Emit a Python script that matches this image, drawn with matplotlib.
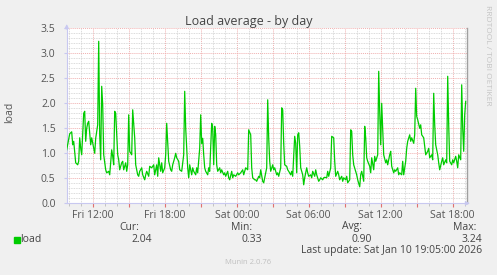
import numpy as np
import pandas as pd
import matplotlib
matplotlib.use("Agg")
import matplotlib.pyplot as plt
import matplotlib.dates as mdates

plt.rcParams['font.family'] = ['Open Sans', 'DejaVu Sans']

# samples: step = 5-minute slot since Fri 09:50, load = 5 min load average
steps_a = [0, 3, 5, 6, 7, 9, 11, 12, 13, 14, 15, 17, 18, 19, 20, 21, 22, 24, 25, 27,
           28, 29, 31, 32, 33, 34, 35, 36, 37, 39, 40, 42, 43, 45, 46, 47, 48, 49, 51, 52,
           53, 55, 56, 57, 59, 60, 61, 62, 63, 65, 66, 68, 69, 71, 72, 73, 75, 76, 78, 79,
           80, 82, 83, 85, 87, 88, 90, 91, 92, 94, 95, 96, 98, 99, 100, 101, 102, 104, 105, 106,
           108, 109, 110, 112, 113, 115, 117, 118, 119, 121, 122, 123, 125, 126, 127, 129, 130, 131, 133, 134]
load_a = [1.07, 1.39, 1.43, 1.17, 1.24, 0.81, 0.77, 0.84, 1.31, 1.10, 0.97, 1.80, 1.84, 1.24, 1.50, 1.60, 1.64, 1.17, 1.31, 1.10,
          1.00, 1.30, 1.57, 3.24, 1.37, 0.87, 2.34, 1.97, 0.97, 0.67, 0.61, 0.64, 0.57, 1.07, 0.94, 0.77, 1.84, 1.80, 0.97, 0.87,
          0.67, 0.81, 0.84, 0.67, 0.81, 0.64, 0.77, 1.77, 1.04, 0.97, 1.87, 1.31, 0.77, 0.57, 0.54, 0.64, 0.71, 0.57, 0.47, 0.57,
          0.64, 0.54, 0.74, 0.71, 0.77, 0.57, 0.77, 0.54, 0.91, 0.64, 0.81, 0.61, 0.71, 0.97, 1.60, 1.24, 0.84, 0.67, 0.64, 0.77,
          0.91, 1.00, 0.91, 0.84, 0.67, 0.64, 0.97, 2.24, 1.50, 0.71, 0.51, 0.77, 0.57, 0.71, 0.64, 0.57, 0.71, 0.61, 1.10, 1.77]

steps_b = [135, 136, 137, 138, 139, 141, 142, 143, 145, 146, 147, 148, 149, 150, 151, 153, 154, 155, 157, 158,
           159, 161, 162, 163, 165, 166, 167, 169, 171, 172, 174, 176, 177, 179, 181, 182, 184, 185, 186, 188,
           189, 190, 192, 193, 194, 196, 197, 198, 200, 201, 202, 203, 204, 206, 207, 208, 210, 211, 212, 214,
           215, 216, 217, 218, 220, 221, 222, 224, 225, 226, 228, 229, 230, 231, 232, 233, 234, 236, 237, 238,
           240, 241, 242, 244, 245, 246, 248, 249, 250, 252, 253, 254, 256, 257, 258, 260, 261, 262, 264]
load_b = [1.20, 1.30, 0.97, 0.71, 0.64, 0.57, 0.71, 0.64, 1.60, 1.50, 0.77, 1.54, 1.37, 0.77, 0.64, 0.71, 0.61, 0.67, 0.57, 0.61,
          0.54, 0.64, 0.51, 0.47, 0.64, 0.51, 0.57, 0.54, 0.61, 0.57, 0.61, 0.67, 0.57, 0.71, 0.67, 1.47, 1.37, 0.71, 0.51, 0.47,
          0.47, 0.44, 0.54, 0.51, 0.67, 0.44, 0.41, 0.51, 0.71, 2.07, 1.31, 0.84, 0.64, 0.77, 0.67, 0.71, 0.57, 0.61, 0.54, 0.71,
          1.91, 1.87, 1.20, 0.77, 0.74, 0.67, 0.64, 0.57, 0.64, 0.54, 1.34, 1.20, 0.61, 1.37, 1.41, 1.14, 0.71, 0.57, 0.37, 0.51,
          0.71, 0.61, 0.54, 0.57, 0.51, 0.64, 0.54, 0.67, 0.57, 0.44, 0.47, 0.51, 0.47, 0.51, 0.52, 0.51, 0.64, 0.54, 0.71]

steps_c = [265, 267, 268, 269, 271, 272, 273, 275, 276, 277, 279, 280, 281, 283, 284, 285, 286, 287, 289, 290,
           291, 293, 294, 295, 297, 298, 299, 300, 301, 303, 304, 305, 307, 308, 309, 311, 312, 313, 314, 315,
           316, 317, 319, 320, 321, 323, 324, 325, 327, 328, 329, 331, 332, 333, 335, 336, 337, 339, 340, 341,
           343, 344, 345, 347, 348, 349, 350, 351, 353, 354, 355, 357, 358, 359, 361, 362, 363, 365, 366, 367,
           368, 369, 371, 372, 373, 375, 376, 377, 379, 380, 381, 382, 383, 385, 386, 387, 389, 390, 391, 392,
           394, 395, 396, 397, 398, 399]
load_c = [1.34, 1.31, 0.84, 0.54, 0.64, 0.57, 0.47, 0.54, 0.44, 0.51, 0.47, 0.54, 0.41, 0.47, 1.47, 1.44, 0.97, 0.77, 0.64, 0.57,
          0.47, 0.33, 0.57, 0.64, 0.44, 1.54, 1.31, 0.91, 0.84, 0.74, 0.61, 0.91, 0.67, 0.94, 0.84, 0.97, 2.64, 1.84, 1.17, 2.00,
          1.50, 0.97, 0.81, 0.87, 0.77, 0.97, 1.04, 0.74, 0.61, 0.67, 0.64, 0.71, 0.57, 0.61, 0.57, 0.84, 0.57, 0.84, 1.10, 1.24,
          1.37, 1.24, 1.31, 1.20, 1.37, 2.30, 1.74, 1.67, 1.50, 1.57, 1.37, 1.31, 1.14, 0.97, 1.04, 1.10, 0.91, 0.97, 0.87, 2.20,
          1.57, 1.17, 0.97, 0.81, 0.67, 0.84, 0.91, 0.77, 0.87, 0.81, 2.54, 1.57, 0.84, 0.77, 0.87, 0.81, 0.94, 0.84, 0.71, 0.97,
          0.87, 2.37, 1.50, 1.04, 1.77, 2.04]

cur, vmin, avg, vmax = "2.04", "0.33", "0.90", "3.24"
last_update = "Last update: Sat Jan 10 19:05:00 2026"

start = pd.Timestamp("2026-01-09 09:50")
steps = np.array(steps_a + steps_b + steps_c)
load = np.array(load_a + load_b + load_c)
times = start + pd.to_timedelta(steps * 5, unit="min")

W, H = 497, 275
fig = plt.figure(figsize=(W / 100, H / 100), dpi=100, facecolor="#F0F0F0")
ax = fig.add_axes([66.7 / W, (H - 203.3) / H, 400 / W, 175 / H])
ax.set_facecolor("white")

ax.plot(times, load, color="#00CC00", lw=0.9, zorder=3)

ax.set_xlim(start, start + pd.Timedelta(minutes=2000))
ax.set_ylim(0, 3.5)

# grids: red every 3h / 0.5, grey every hour / 0.1
ax.xaxis.set_major_locator(mdates.HourLocator(byhour=range(0, 24, 3)))
ax.xaxis.set_minor_locator(mdates.HourLocator())
ax.yaxis.set_major_locator(plt.MultipleLocator(0.5))
ax.yaxis.set_minor_locator(plt.MultipleLocator(0.1))
ax.grid(which="minor", color="#CFCFCF", ls=(0, (1, 1)), lw=0.6)
ax.grid(which="major", color="#F0B0B0", ls=(0, (1, 1)), lw=0.7)
ax.set_axisbelow(True)

def xfmt(x, pos):
    d = mdates.num2date(x)
    return d.strftime("%a %H:%M") if d.hour % 6 == 0 else ""
ax.xaxis.set_major_formatter(plt.FuncFormatter(xfmt))
ax.yaxis.set_major_formatter(plt.FuncFormatter(lambda v, p: f"{v:.1f}"))

ax.tick_params(axis="x", which="major", colors="#E07070", length=3, width=0.8,
               labelcolor="#555555", labelsize=7.5, pad=2)
ax.tick_params(axis="x", which="minor", colors="#BBBBBB", length=2, width=0.6)
ax.tick_params(axis="y", which="major", colors="#C8C8F0", length=2, width=0.8,
               labelcolor="#555555", labelsize=7.5, pad=6)
ax.tick_params(axis="y", which="minor", length=0)

ax.spines["top"].set_visible(False)
ax.spines["right"].set_color("#A0A0A0")
ax.spines["right"].set_linewidth(1.0)
ax.spines["left"].set_color("#C8C8F0")
ax.spines["bottom"].set_color("#C8C8F0")

# axis arrows
ax.annotate("", xy=(0, 1.04), xytext=(0, 0.98), xycoords="axes fraction",
            arrowprops=dict(arrowstyle="-|>", color="#C8C8F0", lw=0.8, mutation_scale=6), annotation_clip=False)
ax.annotate("", xy=(1.015, 0), xytext=(0.99, 0), xycoords="axes fraction",
            arrowprops=dict(arrowstyle="-|>", color="#C8C8F0", lw=0.8, mutation_scale=6), annotation_clip=False)

fig.text(248.5 / W, 1 - 21 / H, "Load average - by day", ha="center", va="center",
         fontsize=9, color="#444444")
fig.text(10 / W, 1 - 112 / H, "load", rotation=90, ha="center", va="center",
         fontsize=7.5, color="#555555")
fig.text(487 / W, 1 - 5 / H, "RRDTOOL / TOBI OETIKER", rotation=270, ha="center", va="top",
         fontsize=6, color="#C4C4C4")

# legend block
tc = "#444444"
fig.patches.append(plt.Rectangle((14 / W, 1 - 243 / H), 6 / W, 6 / H, transform=fig.transFigure,
                                 color="#00CC00", figure=fig))
fig.text(20 / W, 1 - 239.5 / H, "load", ha="left", va="center", fontsize=7.5, color=tc)
for lab, val, xl, xv in [("Cur:", cur, 139, 152), ("Min:", vmin, 252, 262),
                         ("Avg:", avg, 362, 372), ("Max:", vmax, 476, 482)]:
    fig.text(xl / W, 1 - 227 / H, lab, ha="right", va="center", fontsize=7.5, color=tc)
    fig.text(xv / W, 1 - 239.5 / H, val, ha="right", va="center", fontsize=7.5, color=tc)
fig.text(482 / W, 1 - 251 / H, last_update, ha="right", va="center", fontsize=7.5, color=tc)
fig.text(248 / W, 1 - 262 / H, "Munin 2.0.76", ha="center", va="center", fontsize=5.5, color="#C0C0C0")

fig.savefig("out.png", dpi=100, facecolor=fig.get_facecolor())
